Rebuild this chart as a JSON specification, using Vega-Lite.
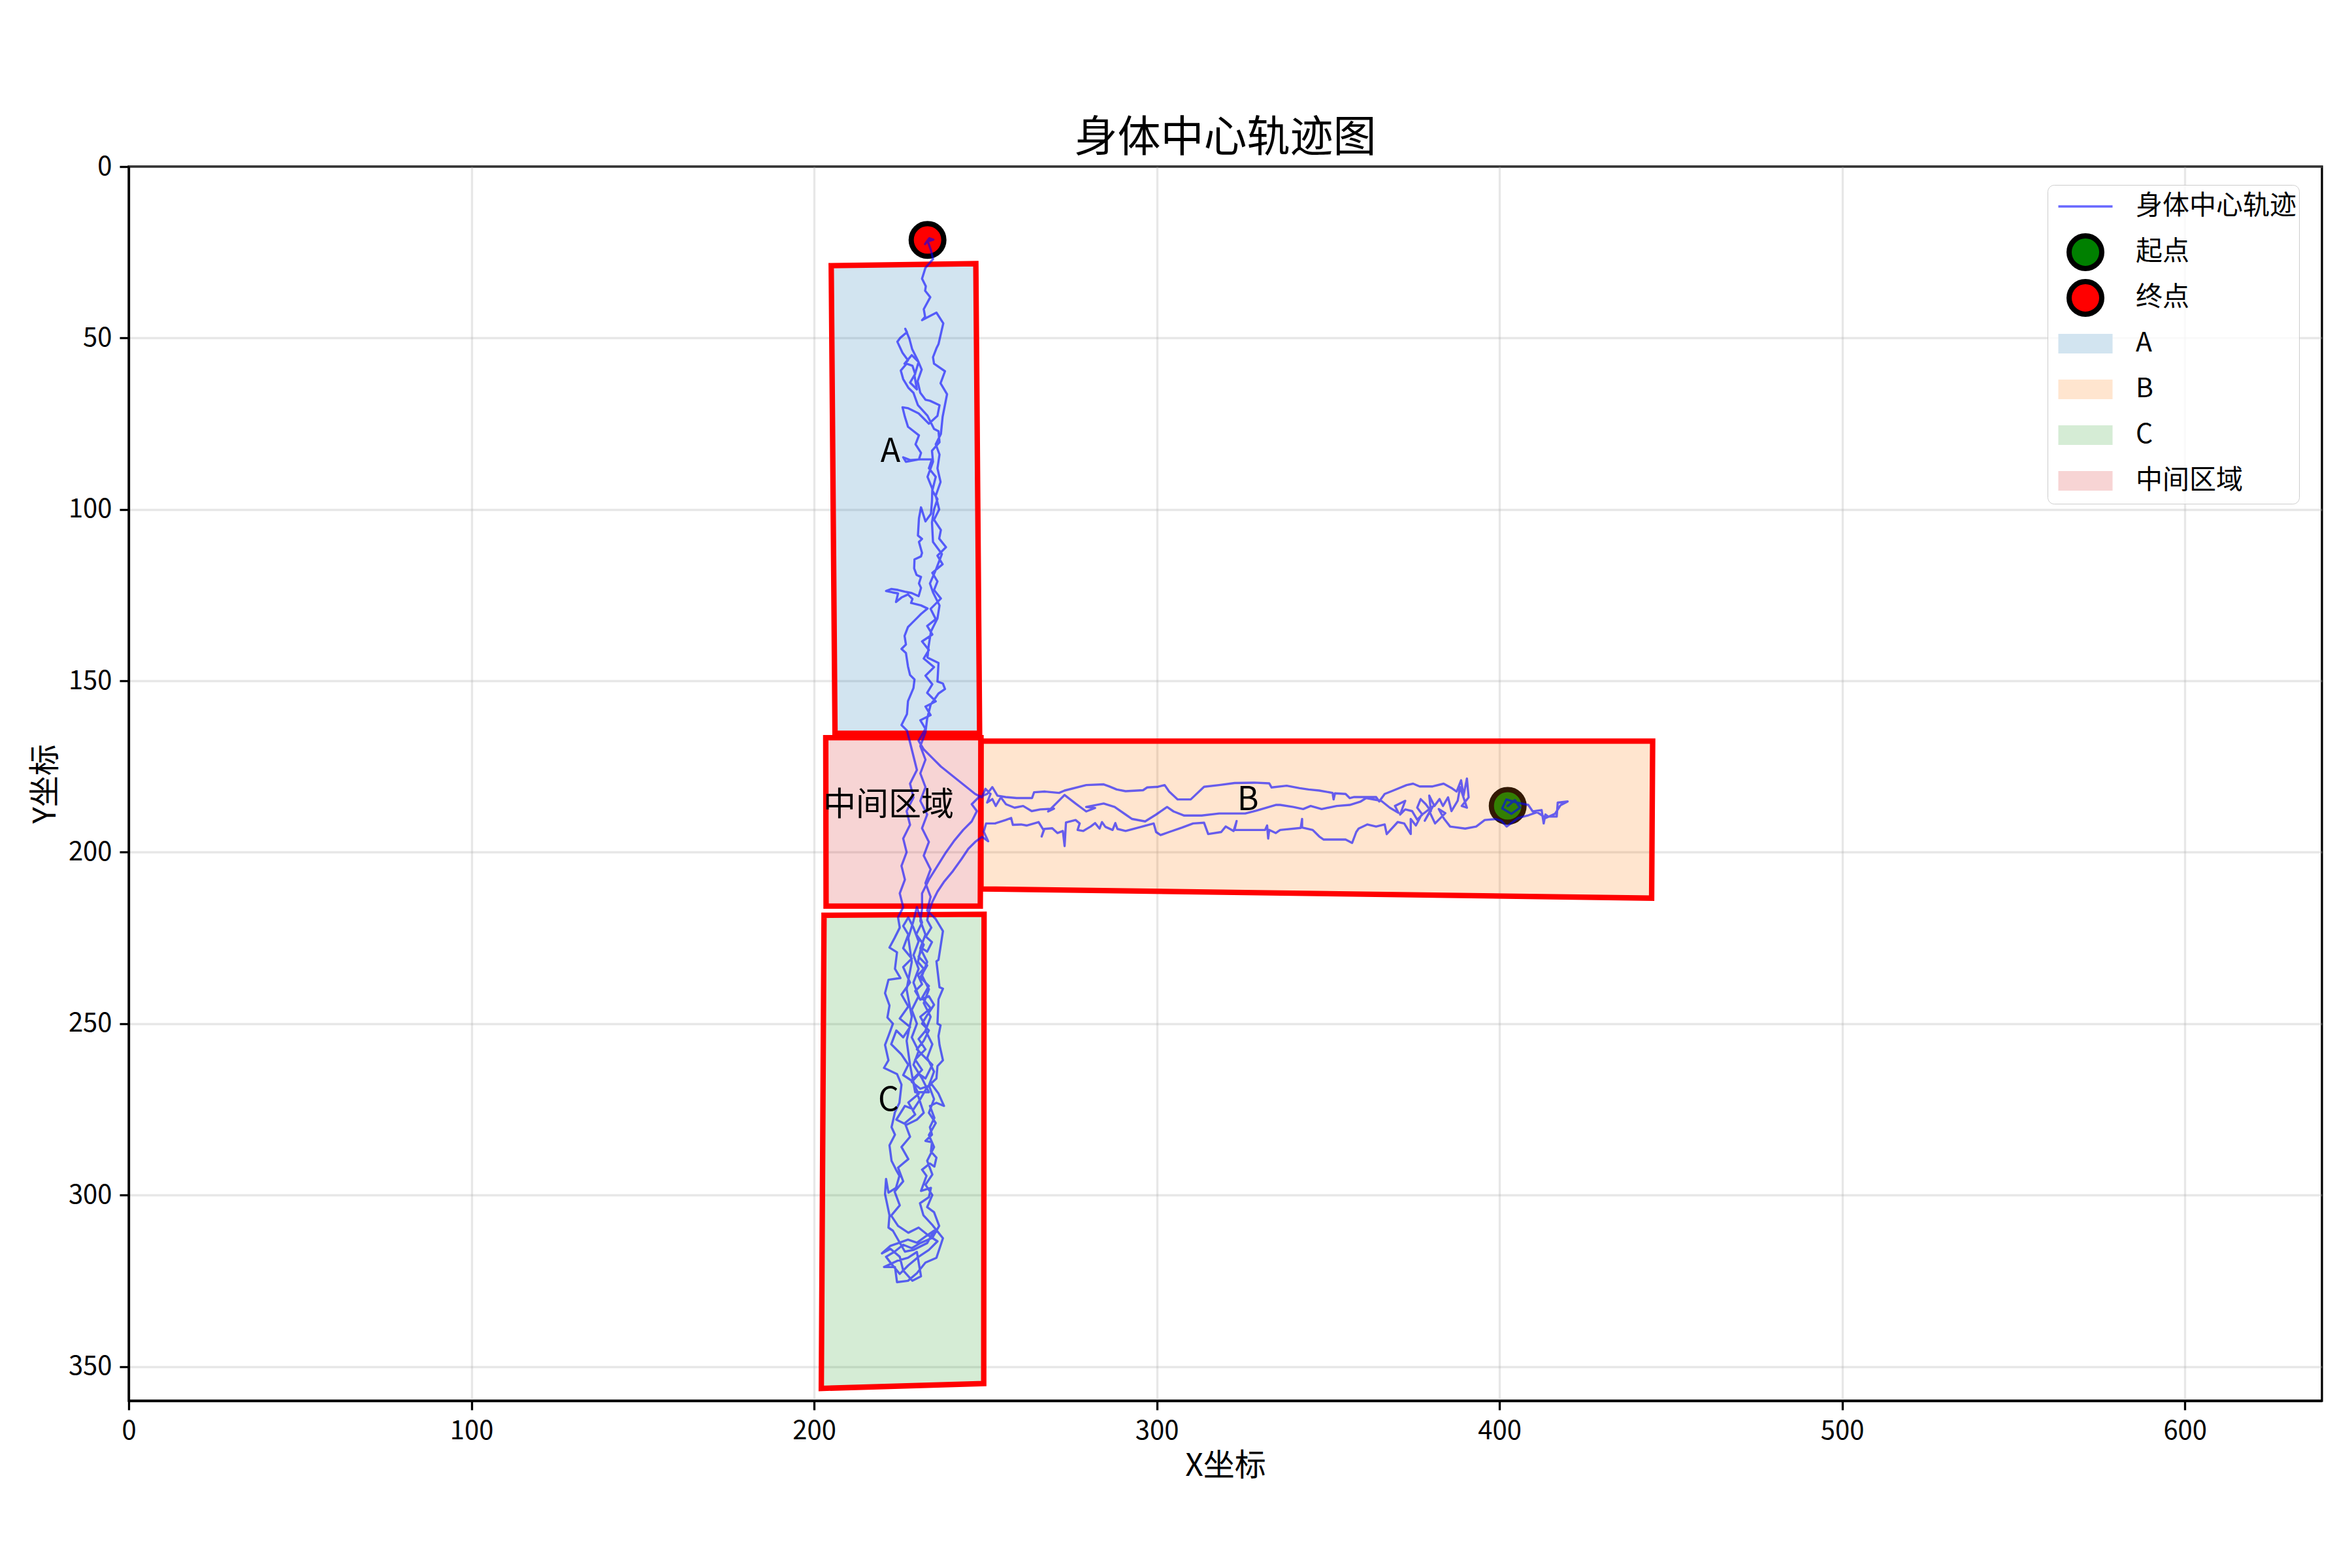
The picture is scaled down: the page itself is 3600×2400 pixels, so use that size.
{
"$schema": "https://vega.github.io/schema/vega-lite/v6.json",
"autosize": {"type": "none"},
"padding": {"left": 197, "top": 255, "right": 46, "bottom": 256},
"width": 3357,
"height": 1889,
"background": "white",
"title": {"text": "身体中心轨迹图", "fontSize": 66, "font": "Noto Sans CJK SC", "fontWeight": "normal", "color": "black", "offset": -11, "anchor": "middle"},
"config": {
  "view": {"stroke": "black", "strokeWidth": 3.3},
  "font": "Noto Sans CJK SC",
  "axis": {"labelFont": "Noto Sans CJK SC", "labelFontSize": 40, "labelColor": "black", "titleFont": "Noto Sans CJK SC", "titleFontSize": 48, "titleFontWeight": "normal", "titleColor": "black", "domainColor": "black", "domainWidth": 3.3, "tickColor": "black", "tickWidth": 3.3, "tickSize": 14, "labelPadding": 12, "gridColor": "#b0b0b0", "gridOpacity": 0.3, "gridWidth": 3.3, "titlePadding": 10, "labelFlush": false, "labelOverlap": false},
  "legend": {"title": null, "orient": "none", "legendX": 2937, "legendY": 28, "padding": 4, "fillColor": "rgba(255,255,255,0.8)", "strokeColor": "#cccccc", "cornerRadius": 10, "labelFont": "Noto Sans CJK SC", "labelFontSize": 41, "labelColor": "black", "labelOffset": 48, "labelLimit": 0, "symbolSize": 2500, "symbolStrokeWidth": 8, "symbolOffset": 25, "rowPadding": -36, "gridAlign": "all"}
},
"datasets": {
  "poly": [
    {"region": "A", "x": 205.0, "y": 28.9}, {"region": "A", "x": 247.2, "y": 28.3}, {"region": "A", "x": 248.3, "y": 165.3}, {"region": "A", "x": 206.1, "y": 165.3}, {"region": "A", "x": 205.0, "y": 28.9},
    {"region": "B", "x": 248.7, "y": 167.6}, {"region": "B", "x": 444.7, "y": 167.6}, {"region": "B", "x": 444.4, "y": 213.4}, {"region": "B", "x": 248.7, "y": 210.7}, {"region": "B", "x": 248.7, "y": 167.6},
    {"region": "C", "x": 202.9, "y": 218.4}, {"region": "C", "x": 249.6, "y": 218.1}, {"region": "C", "x": 249.5, "y": 355.0}, {"region": "C", "x": 202.1, "y": 356.4}, {"region": "C", "x": 202.9, "y": 218.4},
    {"region": "中间区域", "x": 203.4, "y": 166.6}, {"region": "中间区域", "x": 248.7, "y": 166.6}, {"region": "中间区域", "x": 248.5, "y": 215.7}, {"region": "中间区域", "x": 203.5, "y": 215.7}, {"region": "中间区域", "x": 203.4, "y": 166.6}
  ],
  "pts": [
    {"name": "起点", "x": 402.4, "y": 186.5},
    {"name": "终点", "x": 233.1, "y": 21.4}
  ],
  "labels": [
    {"t": "A", "x": 222.3, "y": 83.2},
    {"t": "B", "x": 326.6, "y": 184.9},
    {"t": "C", "x": 221.7, "y": 272.6},
    {"t": "中间区域", "x": 221.7, "y": 186.4}
  ],
  "traj": [
    {"x":402.4,"y":186.5},{"x":404.5,"y":184.8},{"x":406.0,"y":187.0},{"x":403.5,"y":188.8},{"x":400.8,"y":187.2},{"x":402.0,"y":184.6},{"x":405.0,"y":185.5},{"x":408.4,"y":186.2},{"x":409.7,"y":188.1},{"x":412.3,"y":187.7},{"x":412.9,"y":191.6},{"x":413.4,"y":189.0},{"x":414.2,"y":189.6},{"x":416.7,"y":189.6},{"x":417.0,"y":185.5},{"x":419.9,"y":185.2},{"x":417.8,"y":186.3},{"x":416.2,"y":188.8},{"x":413.5,"y":190.0},{"x":411.0,"y":188.3},{"x":408.5,"y":189.2},{"x":405.5,"y":190.0},{"x":402.1,"y":192.5},{"x":400.5,"y":190.8},{"x":398.9,"y":190.3},{"x":395.7,"y":190.6},{"x":393.2,"y":192.5},{"x":390.0,"y":193.1},{"x":385.6,"y":192.5},
    {"x":383.8,"y":190.2},{"x":382.3,"y":187.4},{"x":384.2,"y":188.6},{"x":381.2,"y":191.6},{"x":379.6,"y":188.2},{"x":378.2,"y":190.8},{"x":380.6,"y":186.6},{"x":377.2,"y":189.2},{"x":375.6,"y":192.2},{"x":374.1,"y":190.3},{"x":374.1,"y":194.7},{"x":372.2,"y":191.6},{"x":370.3,"y":191.2},{"x":367.1,"y":194.7},{"x":366.5,"y":191.9},{"x":364.0,"y":192.5},{"x":361.4,"y":191.9},{"x":358.9,"y":193.1},{"x":358.2,"y":194.1},{"x":357.0,"y":197.3},{"x":355.1,"y":196.3},{"x":348.7,"y":196.3},{"x":347.4,"y":195.4},{"x":345.5,"y":193.5},{"x":342.4,"y":192.8},{"x":342.4,"y":190.3},{"x":342.0,"y":192.9},{"x":336.0,"y":193.5},{"x":334.7,"y":194.4},{"x":332.8,"y":193.5},{"x":332.5,"y":196.0},{"x":332.2,"y":192.2},{"x":331.6,"y":193.5},{"x":324.6,"y":193.5},{"x":322.7,"y":193.5},{"x":323.3,"y":190.9},{"x":322.4,"y":193.8},{"x":320.1,"y":192.5},{"x":318.8,"y":194.1},{"x":315.0,"y":194.7},{"x":313.8,"y":191.4},{"x":310.6,"y":191.6},{"x":307.4,"y":192.8},{"x":303.6,"y":194.1},{"x":301.1,"y":195.0},{"x":299.8,"y":194.1},{"x":299.1,"y":191.6},{"x":294.7,"y":192.8},{"x":290.9,"y":193.8},{"x":288.5,"y":193.2},{"x":287.9,"y":191.5},{"x":287.1,"y":193.5},{"x":285.0,"y":192.6},{"x":284.0,"y":191.2},{"x":283.3,"y":193.1},{"x":282.0,"y":191.5},{"x":280.7,"y":192.5},{"x":278.5,"y":193.8},{"x":276.9,"y":193.5},{"x":277.5,"y":191.6},{"x":276.3,"y":190.6},{"x":273.5,"y":191.3},{"x":273.1,"y":198.2},{"x":272.6,"y":193.8},{"x":271.0,"y":194.4},{"x":269.5,"y":193.0},{"x":267.2,"y":193.2},{"x":266.4,"y":195.4},{"x":267.0,"y":193.6},{"x":265.5,"y":191.2},{"x":262.0,"y":192.2},{"x":260.4,"y":191.9},{"x":258.0,"y":192.0},{"x":257.5,"y":190.0},{"x":255.9,"y":190.6},{"x":252.8,"y":191.6},{"x":250.2,"y":191.6},{"x":249.5,"y":194.0},{"x":250.8,"y":196.8},{"x":249.0,"y":195.5},
    {"x":247.0,"y":197.0},{"x":245.0,"y":199.0},{"x":243.0,"y":202.0},{"x":240.5,"y":205.5},{"x":238.0,"y":208.5},{"x":236.0,"y":211.5},{"x":234.5,"y":214.5},{"x":233.5,"y":217.5},
    {"x":233.0,"y":219.8},{"x":234.2,"y":222.0},{"x":232.6,"y":224.6},{"x":234.4,"y":226.2},{"x":233.0,"y":229.0},{"x":231.2,"y":227.8},{"x":230.3,"y":232.0},{"x":232.0,"y":234.0},{"x":230.3,"y":235.8},{"x":231.5,"y":238.5},{"x":229.5,"y":240.5},{"x":231.0,"y":243.0},{"x":233.5,"y":242.0},{"x":235.0,"y":244.5},{"x":233.0,"y":247.5},{"x":231.5,"y":250.0},{"x":233.5,"y":252.0},{"x":232.0,"y":255.0},{"x":230.0,"y":257.5},{"x":232.5,"y":260.0},{"x":234.5,"y":262.0},{"x":232.5,"y":266.0},{"x":230.6,"y":264.7},{"x":228.5,"y":267.0},{"x":231.0,"y":269.0},{"x":234.4,"y":267.8},{"x":236.3,"y":270.4},{"x":237.9,"y":274.0},{"x":235.7,"y":273.1},{"x":233.8,"y":274.0},{"x":235.1,"y":277.5},{"x":233.8,"y":280.2},{"x":234.4,"y":282.4},{"x":232.5,"y":284.2},{"x":234.4,"y":284.6},{"x":234.1,"y":287.3},{"x":235.7,"y":289.1},{"x":235.1,"y":291.7},{"x":233.8,"y":290.8},{"x":231.5,"y":292.6},{"x":232.8,"y":294.4},{"x":231.2,"y":298.8},{"x":234.1,"y":297.9},{"x":233.5,"y":300.6},{"x":230.9,"y":302.4},{"x":231.9,"y":305.9},{"x":234.4,"y":308.6},{"x":235.5,"y":310.0},{"x":237.6,"y":312.6},{"x":235.7,"y":318.3},{"x":232.5,"y":319.7},{"x":230.0,"y":322.8},{"x":227.4,"y":325.0},{"x":224.2,"y":325.4},{"x":223.6,"y":321.0},{"x":220.4,"y":321.0},{"x":224.2,"y":319.2},{"x":227.4,"y":318.3},{"x":230.0,"y":316.6},{"x":231.2,"y":323.7},{"x":228.7,"y":325.0},{"x":226.0,"y":322.0},{"x":225.0,"y":318.0},{"x":222.3,"y":315.7},{"x":219.8,"y":317.0},{"x":222.3,"y":314.8},{"x":224.9,"y":313.9},{"x":227.4,"y":313.0},{"x":230.0,"y":313.9},{"x":232.5,"y":312.1},{"x":235.0,"y":310.4},{"x":233.0,"y":314.0},{"x":229.0,"y":316.0},{"x":226.5,"y":316.5},{"x":223.0,"y":310.4},{"x":221.7,"y":309.5},{"x":222.0,"y":305.9},{"x":220.7,"y":299.7},{"x":221.0,"y":295.3},{"x":221.7,"y":299.3},{"x":223.9,"y":297.9},{"x":224.9,"y":294.4},{"x":223.9,"y":292.6},{"x":222.6,"y":290.0},{"x":222.0,"y":285.5},{"x":223.6,"y":282.4},{"x":222.6,"y":280.2},{"x":223.6,"y":275.8},{"x":224.9,"y":273.1},{"x":225.5,"y":267.8},{"x":224.2,"y":264.7},{"x":220.4,"y":262.9},{"x":221.7,"y":260.7},{"x":220.7,"y":256.2},{"x":221.7,"y":253.6},{"x":223.0,"y":250.0},{"x":221.4,"y":248.2},{"x":222.0,"y":244.7},{"x":220.7,"y":241.1},{"x":221.7,"y":237.2},{"x":225.2,"y":236.7},{"x":223.6,"y":234.0},{"x":224.2,"y":229.2},{"x":222.0,"y":227.8},{"x":223.5,"y":225.0},{"x":225.0,"y":222.0},{"x":224.5,"y":219.0},
    {"x":226.0,"y":216.0},{"x":225.0,"y":212.0},{"x":226.5,"y":208.0},{"x":225.5,"y":204.0},{"x":227.0,"y":200.0},{"x":226.0,"y":196.0},{"x":228.0,"y":192.0},{"x":227.0,"y":188.0},{"x":229.0,"y":184.0},{"x":228.0,"y":180.0},{"x":230.0,"y":176.0},{"x":229.0,"y":172.0},{"x":228.0,"y":168.0},{"x":227.1,"y":164.5},
    {"x":225.5,"y":162.9},{"x":227.1,"y":159.7},{"x":227.4,"y":155.9},{"x":229.0,"y":152.1},{"x":229.3,"y":149.6},{"x":228.0,"y":148.3},{"x":227.4,"y":145.8},{"x":226.8,"y":141.9},{"x":225.5,"y":140.7},{"x":226.8,"y":139.4},{"x":226.4,"y":136.9},{"x":227.4,"y":134.3},{"x":228.7,"y":133.0},{"x":229.9,"y":131.8},{"x":231.2,"y":130.5},{"x":233.1,"y":128.9},{"x":231.2,"y":128.0},{"x":228.3,"y":127.3},{"x":228.7,"y":126.1},{"x":227.4,"y":124.8},{"x":225.5,"y":125.7},{"x":223.9,"y":127.0},{"x":224.5,"y":124.5},{"x":222.9,"y":124.2},{"x":221.0,"y":123.8},{"x":222.5,"y":123.2},{"x":224.5,"y":123.5},{"x":226.5,"y":124.0},{"x":228.5,"y":124.4},{"x":230.5,"y":125.3},{"x":231.2,"y":122.9},{"x":230.6,"y":121.6},{"x":231.2,"y":119.7},{"x":229.9,"y":119.1},{"x":229.2,"y":117.2},{"x":229.3,"y":114.6},{"x":231.2,"y":113.7},{"x":231.5,"y":112.7},{"x":230.6,"y":109.5},{"x":231.5,"y":108.6},{"x":230.3,"y":107.6},{"x":230.6,"y":102.6},{"x":231.2,"y":99.4},{"x":232.5,"y":103.5},{"x":234.1,"y":101.3},{"x":234.4,"y":97.5},{"x":234.5,"y":94.0},{"x":233.1,"y":90.5},{"x":234.7,"y":86.1},{"x":234.4,"y":82.9},{"x":236.6,"y":80.4},{"x":236.3,"y":77.2},{"x":235.0,"y":76.5},{"x":233.1,"y":72.7},{"x":230.3,"y":69.6},{"x":229.0,"y":66.0},{"x":227.5,"y":64.5},{"x":226.0,"y":62.0},{"x":225.3,"y":59.5},{"x":227.0,"y":57.5},{"x":228.7,"y":58.1},{"x":229.5,"y":60.5},{"x":228.0,"y":63.0},{"x":230.0,"y":65.0},{"x":229.3,"y":61.0},{"x":230.5,"y":57.0},{"x":228.5,"y":55.0},{"x":226.4,"y":57.5},{"x":227.4,"y":56.5},{"x":225.8,"y":54.3},{"x":224.3,"y":51.1},{"x":225.2,"y":49.9},{"x":227.1,"y":48.3},{"x":226.6,"y":47.3},{"x":227.8,"y":50.2},{"x":228.6,"y":53.2},{"x":230.2,"y":56.4},{"x":231.4,"y":59.2},{"x":230.2,"y":62.6},{"x":231.0,"y":66.0},{"x":232.5,"y":68.0},{"x":233.8,"y":68.3},{"x":236.6,"y":69.6},{"x":236.0,"y":72.7},{"x":233.5,"y":75.0},{"x":230.5,"y":72.0},{"x":227.5,"y":70.5},{"x":225.8,"y":70.2},{"x":226.5,"y":73.0},{"x":227.4,"y":75.9},{"x":230.6,"y":78.4},{"x":229.6,"y":81.0},{"x":231.2,"y":83.5},{"x":230.6,"y":85.4},{"x":226.8,"y":86.1},{"x":226.0,"y":84.8},{"x":228.0,"y":85.6},{"x":231.0,"y":85.4},{"x":234.4,"y":85.4},{"x":233.5,"y":88.0},{"x":235.5,"y":90.5},{"x":234.5,"y":94.5},{"x":236.0,"y":97.0},{"x":235.0,"y":100.0},
    {"x":234.4,"y":103.8},{"x":234.7,"y":109.5},{"x":237.3,"y":113.0},{"x":235.7,"y":117.2},{"x":233.8,"y":121.6},{"x":234.7,"y":124.2},{"x":236.6,"y":128.0},{"x":236.0,"y":131.8},{"x":234.1,"y":135.6},{"x":233.4,"y":140.0},{"x":233.1,"y":143.2},{"x":236.3,"y":144.8},{"x":236.0,"y":150.2},{"x":237.6,"y":150.8},{"x":238.2,"y":152.4},{"x":236.3,"y":153.7},{"x":234.0,"y":157.0},{"x":233.0,"y":161.0},{"x":232.5,"y":165.0},
    {"x":231.0,"y":169.0},{"x":232.5,"y":173.0},{"x":231.0,"y":177.0},{"x":232.5,"y":181.0},{"x":231.0,"y":185.0},{"x":233.0,"y":189.0},{"x":231.5,"y":193.0},{"x":233.5,"y":197.0},{"x":232.0,"y":201.0},{"x":234.0,"y":205.0},{"x":232.5,"y":209.0},{"x":234.0,"y":213.0},{"x":233.0,"y":217.0},{"x":235.5,"y":219.5},{"x":237.6,"y":223.0},{"x":236.3,"y":231.4},{"x":235.7,"y":231.8},{"x":236.6,"y":239.4},{"x":237.6,"y":239.8},{"x":236.3,"y":242.9},{"x":236.0,"y":250.0},{"x":236.9,"y":250.5},{"x":236.3,"y":253.6},{"x":236.6,"y":256.2},{"x":237.6,"y":260.7},{"x":236.0,"y":262.4},{"x":235.7,"y":266.0},{"x":233.0,"y":268.5},{"x":231.0,"y":272.0},{"x":229.0,"y":275.0},{"x":226.5,"y":274.0},{"x":224.0,"y":278.0},{"x":227.0,"y":279.5},{"x":230.0,"y":278.0},{"x":232.0,"y":276.0},{"x":229.0,"y":267.0},{"x":226.0,"y":265.0},{"x":227.5,"y":262.0},{"x":225.5,"y":259.0},{"x":222.5,"y":256.0},{"x":224.0,"y":252.0},{"x":226.0,"y":254.0},{"x":228.0,"y":251.0},{"x":225.0,"y":248.5},{"x":227.5,"y":245.0},{"x":225.5,"y":241.5},{"x":228.0,"y":238.0},{"x":226.0,"y":233.5},{"x":228.5,"y":231.0},{"x":226.0,"y":228.0},{"x":227.5,"y":224.0},{"x":226.0,"y":221.5},{"x":227.5,"y":219.0},{"x":229.0,"y":222.0},{"x":230.5,"y":226.0},{"x":229.0,"y":230.0},{"x":230.5,"y":234.0},{"x":229.0,"y":238.0},{"x":230.5,"y":242.0},{"x":228.5,"y":246.0},{"x":230.0,"y":250.0},{"x":228.5,"y":254.0},{"x":230.5,"y":258.0},{"x":229.0,"y":262.0},{"x":231.5,"y":266.0},{"x":233.5,"y":270.0},{"x":229.5,"y":270.0},{"x":228.0,"y":262.0},{"x":227.0,"y":255.0},{"x":228.5,"y":248.0},{"x":227.0,"y":240.0},{"x":228.5,"y":232.0},{"x":227.5,"y":225.0},{"x":229.0,"y":220.0},{"x":230.0,"y":216.0},
    {"x":231.5,"y":220.5},{"x":229.8,"y":224.0},{"x":232.0,"y":227.0},{"x":230.5,"y":230.5},{"x":233.0,"y":233.0},{"x":231.0,"y":236.5},{"x":233.5,"y":239.0},{"x":231.5,"y":242.5},{"x":234.0,"y":245.5},{"x":231.0,"y":248.0},{"x":233.0,"y":251.5},{"x":230.5,"y":254.5},{"x":232.5,"y":257.5},{"x":229.5,"y":260.5},{"x":231.5,"y":263.5},{"x":228.5,"y":266.5},{"x":230.5,"y":270.5},{"x":227.5,"y":273.0},{"x":229.5,"y":276.5},{"x":226.5,"y":279.0},{"x":228.0,"y":283.0},{"x":225.5,"y":286.0},{"x":227.5,"y":289.5},{"x":224.5,"y":292.0},{"x":226.0,"y":296.0},{"x":223.5,"y":299.0},{"x":225.0,"y":303.0},{"x":222.5,"y":306.0},{"x":224.5,"y":309.0},{"x":227.5,"y":311.0},{"x":230.5,"y":309.5},{"x":233.0,"y":311.5},{"x":236.0,"y":313.5},{"x":233.5,"y":316.0},{"x":230.5,"y":318.0},{"x":227.5,"y":320.5},{"x":225.0,"y":323.0},{"x":222.5,"y":320.0},{"x":221.0,"y":318.0},{"x":223.5,"y":316.5},{"x":226.0,"y":314.5},{"x":228.5,"y":315.5},{"x":231.0,"y":314.0},{"x":234.5,"y":312.5},{"x":236.5,"y":309.0},{"x":235.0,"y":305.0},{"x":233.0,"y":303.5},{"x":234.5,"y":300.0},{"x":232.5,"y":297.0},{"x":234.5,"y":294.0},{"x":233.0,"y":290.0},{"x":235.0,"y":286.0},{"x":233.5,"y":282.5},{"x":235.5,"y":279.0},{"x":233.5,"y":276.0},{"x":235.0,"y":272.0},{"x":233.5,"y":268.0},{"x":235.0,"y":264.0},{"x":233.0,"y":260.0},{"x":234.5,"y":256.0},{"x":232.5,"y":252.0},{"x":234.0,"y":248.0},{"x":232.0,"y":244.0},{"x":233.5,"y":240.0},{"x":231.5,"y":236.0},{"x":233.0,"y":232.0},{"x":231.0,"y":228.0},{"x":232.5,"y":224.0},{"x":231.0,"y":220.0},{"x":231.5,"y":216.5},
    {"x":231.5,"y":212.0},{"x":233.5,"y":208.0},{"x":236.0,"y":204.0},{"x":238.5,"y":200.0},{"x":241.0,"y":196.5},{"x":243.5,"y":193.5},{"x":246.0,"y":191.0},{"x":247.5,"y":188.0},{"x":246.0,"y":186.0},{"x":248.0,"y":184.0},{"x":250.5,"y":183.0},{"x":252.0,"y":181.0},{"x":253.5,"y":183.5},{"x":255.9,"y":183.9},{"x":259.1,"y":184.2},{"x":263.6,"y":184.2},{"x":264.2,"y":182.5},{"x":267.4,"y":182.3},{"x":271.5,"y":182.7},{"x":273.1,"y":182.0},{"x":279.4,"y":180.4},{"x":284.5,"y":180.2},{"x":286.1,"y":180.8},{"x":288.3,"y":181.7},{"x":290.9,"y":182.2},{"x":296.0,"y":181.9},{"x":297.2,"y":181.1},{"x":300.4,"y":180.9},{"x":302.3,"y":180.4},{"x":303.6,"y":182.3},{"x":306.1,"y":184.6},{"x":309.9,"y":184.6},{"x":313.8,"y":180.9},{"x":318.2,"y":180.4},{"x":322.7,"y":179.8},{"x":328.4,"y":179.7},{"x":332.8,"y":179.9},{"x":333.5,"y":181.1},{"x":337.9,"y":180.6},{"x":341.7,"y":181.3},{"x":344.3,"y":181.7},{"x":347.4,"y":182.0},{"x":351.3,"y":182.7},{"x":351.6,"y":184.6},{"x":352.0,"y":182.8},{"x":355.1,"y":183.0},{"x":356.3,"y":184.2},{"x":357.6,"y":183.9},{"x":360.1,"y":183.9},{"x":364.0,"y":183.9},{"x":364.9,"y":185.2},{"x":366.5,"y":183.0},{"x":369.0,"y":182.0},{"x":372.9,"y":180.4},{"x":374.8,"y":180.0},{"x":376.7,"y":180.8},{"x":380.5,"y":180.8},{"x":383.7,"y":180.0},{"x":386.2,"y":181.4},{"x":387.5,"y":182.3},{"x":388.8,"y":179.0},{"x":389.5,"y":183.5},{"x":390.5,"y":178.5},{"x":391.0,"y":184.0},{"x":389.0,"y":186.5},{"x":390.5,"y":187.0},{"x":388.5,"y":181.0},{"x":387.8,"y":185.0},{"x":386.0,"y":188.0},{"x":385.0,"y":184.0},{"x":383.5,"y":186.5},{"x":382.5,"y":184.5},{"x":381.0,"y":186.5},{"x":379.5,"y":183.5},{"x":380.0,"y":188.0},{"x":378.5,"y":186.0},{"x":377.0,"y":184.5},{"x":376.0,"y":187.0},{"x":377.5,"y":189.0},{"x":376.0,"y":190.5},{"x":374.5,"y":188.0},{"x":372.5,"y":187.5},{"x":371.0,"y":189.0},{"x":372.5,"y":185.0},{"x":369.5,"y":186.5},{"x":370.5,"y":188.5},{"x":368.0,"y":187.0},{"x":365.5,"y":185.0},
    {"x":361.1,"y":184.2},{"x":359.5,"y":185.2},{"x":356.3,"y":186.2},{"x":352.5,"y":186.5},{"x":348.1,"y":187.4},{"x":344.9,"y":186.5},{"x":342.7,"y":187.4},{"x":339.8,"y":186.8},{"x":336.0,"y":186.2},{"x":334.7,"y":186.2},{"x":329.0,"y":187.9},{"x":325.8,"y":188.7},{"x":318.2,"y":188.7},{"x":313.1,"y":189.3},{"x":308.0,"y":189.3},{"x":304.9,"y":188.1},{"x":303.0,"y":186.8},{"x":299.8,"y":189.0},{"x":296.6,"y":191.0},{"x":292.8,"y":190.3},{"x":290.9,"y":189.0},{"x":287.7,"y":186.8},{"x":284.5,"y":185.8},{"x":279.4,"y":186.8},{"x":282.0,"y":187.1},{"x":279.4,"y":188.1},{"x":276.3,"y":185.8},{"x":273.1,"y":183.3},{"x":271.8,"y":184.6},{"x":268.3,"y":188.1},{"x":270.0,"y":187.3},{"x":266.0,"y":187.5},{"x":263.5,"y":188.0},{"x":261.0,"y":186.5},{"x":258.5,"y":187.0},{"x":256.0,"y":186.0},{"x":254.5,"y":184.0},{"x":253.0,"y":186.5},{"x":252.0,"y":184.5},{"x":250.5,"y":185.5},{"x":251.5,"y":183.0},{"x":250.0,"y":181.5},{"x":249.0,"y":184.0},
    {"x":247.0,"y":183.0},{"x":244.5,"y":181.0},{"x":242.0,"y":179.0},{"x":239.5,"y":177.0},{"x":237.0,"y":175.0},{"x":234.5,"y":172.5},{"x":232.0,"y":170.0},{"x":230.5,"y":167.5},{"x":232.5,"y":164.0},{"x":231.0,"y":161.5},{"x":234.0,"y":160.0},{"x":232.5,"y":157.5},{"x":235.5,"y":156.0},{"x":233.0,"y":153.5},{"x":234.5,"y":151.0},{"x":232.5,"y":148.5},{"x":235.0,"y":146.0},{"x":232.0,"y":143.5},{"x":233.5,"y":141.0},{"x":231.5,"y":138.5},{"x":234.5,"y":136.5},{"x":233.0,"y":134.0},{"x":235.5,"y":132.0},{"x":234.0,"y":129.0},{"x":237.0,"y":126.0},{"x":235.0,"y":123.5},{"x":236.0,"y":121.0},{"x":234.5,"y":118.5},{"x":237.5,"y":116.0},{"x":236.0,"y":113.5},{"x":238.5,"y":111.0},{"x":236.5,"y":108.5},{"x":237.0,"y":106.0},{"x":235.0,"y":103.0},{"x":236.5,"y":100.0},{"x":235.5,"y":96.0},{"x":236.9,"y":92.0},{"x":236.0,"y":88.0},{"x":236.6,"y":84.0},{"x":235.5,"y":81.0},{"x":237.0,"y":78.0},{"x":237.5,"y":73.0},{"x":238.8,"y":66.4},{"x":236.9,"y":63.2},{"x":238.2,"y":59.7},{"x":235.0,"y":57.5},{"x":234.7,"y":55.6},{"x":235.7,"y":53.0},{"x":236.3,"y":51.8},{"x":237.7,"y":45.7},{"x":235.7,"y":42.6},{"x":231.5,"y":44.8},{"x":232.4,"y":43.8},{"x":232.0,"y":41.6},{"x":233.9,"y":38.1},{"x":232.4,"y":36.2},{"x":232.6,"y":34.9},{"x":231.5,"y":32.7},{"x":232.5,"y":29.5},{"x":234.7,"y":27.0},{"x":234.1,"y":24.4},{"x":233.1,"y":21.6},{"x":232.4,"y":22.6},{"x":233.6,"y":20.9},{"x":234.8,"y":21.3},{"x":233.2,"y":21.8}
  ]
},
"encoding": {
  "x": {"field": "x", "type": "quantitative", "scale": {"domain": [0, 640], "nice": false, "zero": false}, "axis": {"title": "X坐标", "values": [0, 100, 200, 300, 400, 500, 600], "grid": true}},
  "y": {"field": "y", "type": "quantitative", "scale": {"domain": [0, 360], "nice": false, "zero": false, "reverse": true}, "axis": {"title": "Y坐标", "values": [0, 50, 100, 150, 200, 250, 300, 350], "grid": true}}
},
"layer": [
  {
    "data": {"name": "pts"},
    "mark": {"type": "point", "filled": true, "size": 2500, "strokeWidth": 8, "strokeJoin": "round", "opacity": 1, "fillOpacity": 1, "strokeOpacity": 1},
    "encoding": {
      "fill": {"field": "name", "type": "nominal",
        "scale": {"domain": ["身体中心轨迹", "起点", "终点", "A", "B", "C", "中间区域"], "range": ["#6666ff", "#008000", "#ff0000", "#d2e4f0", "#ffe5cf", "#d5ecd5", "#f7d4d4"]},
        "legend": {"title": null}},
      "stroke": {"field": "name", "type": "nominal",
        "scale": {"domain": ["身体中心轨迹", "起点", "终点", "A", "B", "C", "中间区域"], "range": ["transparent", "#000000", "#000000", "transparent", "transparent", "transparent", "transparent"]},
        "legend": {"title": null}},
      "shape": {"field": "name", "type": "nominal",
        "scale": {"domain": ["身体中心轨迹", "起点", "终点", "A", "B", "C", "中间区域"], "range": ["M-1.66,-0.07H1.66V0.07H-1.66Z", "circle", "circle", "M-1.66,-0.6H1.66V0.6H-1.66Z", "M-1.66,-0.6H1.66V0.6H-1.66Z", "M-1.66,-0.6H1.66V0.6H-1.66Z", "M-1.66,-0.6H1.66V0.6H-1.66Z"]},
        "legend": {"title": null}}
    }
  },
  {
    "data": {"name": "poly"},
    "mark": {"type": "line", "filled": true, "fillOpacity": 0.2, "stroke": "#ff0000", "strokeWidth": 8.3, "strokeJoin": "miter", "strokeCap": "square", "strokeOpacity": 1},
    "encoding": {
      "color": {"field": "region", "type": "nominal", "scale": {"domain": ["A", "B", "C", "中间区域"], "range": ["#1f77b4", "#ff7f0e", "#2ca02c", "#d62728"]}, "legend": null},
      "order": {"value": null}
    }
  },
  {
    "data": {"name": "traj"},
    "mark": {"type": "line", "stroke": "#0000ff", "color": "#0000ff", "strokeWidth": 3.4, "strokeOpacity": 0.6, "strokeJoin": "round", "strokeCap": "round"},
    "encoding": {
      "order": {"value": null}
    }
  },
  {
    "data": {"name": "labels"},
    "mark": {"type": "text", "fontSize": 50, "font": "Noto Sans CJK SC", "color": "black", "align": "center", "baseline": "middle"},
    "encoding": {
      "text": {"field": "t", "type": "nominal"}
    }
  }
]
}
